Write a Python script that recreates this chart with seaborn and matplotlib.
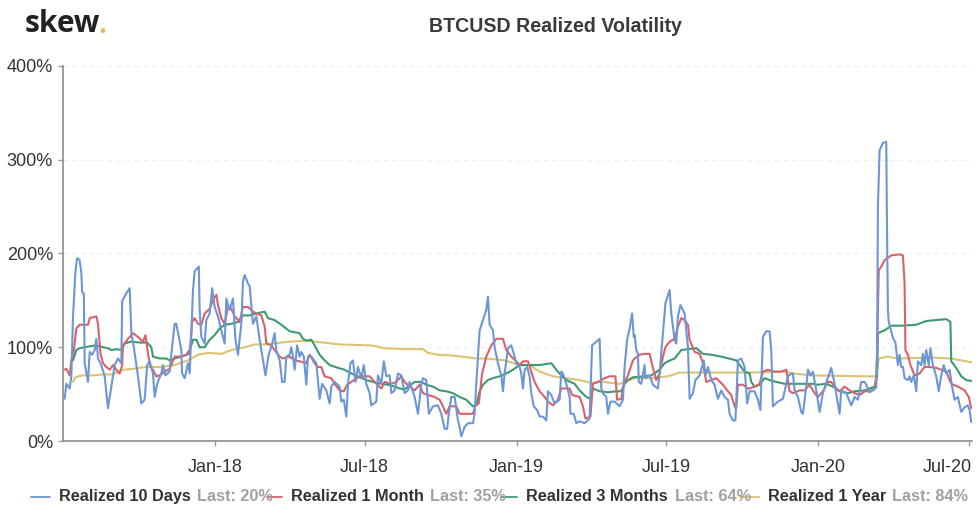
import numpy as np
import pandas as pd
import matplotlib
matplotlib.use("Agg")
import matplotlib.pyplot as plt
from matplotlib.lines import Line2D
from matplotlib.transforms import ScaledTranslation
import seaborn as sns

sns.set_theme(style="white")
plt.rcParams["font.family"] = ["Liberation Sans", "DejaVu Sans"]

START = pd.Timestamp("2017-07-01")
DAY_SCALE = 1.00833
TICK_DATES = ["2018-01-01", "2018-07-01", "2019-01-01", "2019-07-01", "2020-01-01", "2020-07-01"]
TICK_LABELS = ["Jan-18", "Jul-18", "Jan-19", "Jul-19", "Jan-20", "Jul-20"]

# (days since start, realized volatility %)
blue = [(2,45),(4,61),(8,56),(10,69),(12,133),(15,182),(17,195),(20,193),(22,179),(23,159),(25,157),(26,83),(30,63),(32,95),(35,92),(38,97),(40,109),(42,88),(46,81),(50,69),(54,35),(58,58),(62,81),(66,88),(70,83),(71,149),(75,156),(80,163),(82,115),(85,100),(90,69),(94,40),(98,44),(101,81),(104,85),(108,72),(110,47),(113,61),(118,72),(120,81),(123,70),(128,74),(130,93),(134,125),
 (136,125),(139,111),(142,97),(143,72),(146,67),(150,83),(152,72),(154,115),(156,161),(158,181),(163,186),(164,140),(166,111),(170,104),(172,129),(176,136),(179,163),(182,143),(186,133),(190,118),(194,104),(196,152),(200,140),(204,152),(207,108),(210,92),(214,125),(216,170),(218,177),(222,168),(224,165),(228,125),(232,133),(236,108),(240,86),(243,70),(247,93),(250,100),(254,115),(256,97),(260,86),(263,63),(266,63),(268,90),(272,92),
 (274,100),(276,90),(278,76),(281,102),(284,90),(286,95),(289,90),(292,60),(294,90),(298,90),(304,83),(308,45),(311,61),(316,54),(320,40),(322,58),(326,63),(332,58),(334,42),(337,44),(340,26),(342,61),(345,83),(348,86),(351,63),(354,79),(358,67),(361,81),(364,61),(368,51),(370,38),(376,42),(378,70),(382,61),(385,85),(388,69),(392,70),(394,51),(398,54),(402,72),(406,70),(410,51),
 (414,54),(416,63),(422,47),(426,29),(430,61),(432,67),(436,65),(439,29),(444,37),(450,38),(454,29),(458,13),(461,13),(463,29),(466,47),(470,47),(474,22),(476,15),(478,5),(482,15),(486,19),(492,19),(494,29),(496,61),(500,118),(504,129),(508,140),(510,154),(512,124),(516,118),(518,100),(522,83),(526,70),(528,53),(530,72),(534,99),(538,102),(541,93),(544,83),(548,79),
 (550,72),(552,56),(554,76),(557,79),(560,69),(562,51),(565,37),(569,33),(572,26),(576,26),(580,22),(582,53),(586,49),(590,40),(596,44),(598,74),(600,72),(604,61),(608,47),(609,29),(613,29),(616,19),(620,21),(626,19),(632,24),(635,102),(640,106),(644,109),(646,56),(648,51),(652,47),(654,29),(657,42),(662,42),(668,37),(672,44),(674,79),(677,108),(680,120),(683,136),(685,111),
 (686,113),(688,97),(690,93),(691,63),(694,61),(698,81),(699,67),(704,70),(708,60),(714,56),(716,72),(720,115),(723,147),(728,161),(730,136),(734,108),(736,104),(738,133),(741,145),(746,136),(750,100),(752,45),(756,51),(759,65),(764,70),(769,86),(771,70),(774,79),(778,65),(782,60),(786,45),(790,54),(794,47),(798,44),(800,29),(804,22),(807,22),(810,86),(814,88),(818,79),(821,40),(824,53),
 (830,53),(834,44),(837,33),(840,111),(844,117),(848,117),(850,97),(852,37),(858,42),(864,45),(866,53),(870,69),(874,72),(876,72),(878,54),(882,47),(886,31),(888,29),(892,58),(894,76),(897,70),(900,74),(904,54),(908,31),(912,51),(917,65),(922,78),(926,61),(932,29),(934,54),(940,51),(946,38),(950,47),(954,44),(958,63),(962,63),
 (964,60),(968,52),(972,54),(976,57),(977,90),(978,250),(980,310),(984,318),(988,319),(989,220),(990,140),(991,127),(996,110),(999,105),(1002,81),(1004,92),(1006,79),(1008,79),(1010,67),(1014,65),(1016,69),(1018,63),(1021,70),(1024,53),(1026,85),(1030,81),(1032,93),(1034,81),(1036,97),(1039,81),(1041,99),(1044,81),(1048,69),(1051,53),(1054,70),(1057,81),(1060,72),(1064,76),(1067,58),(1070,44),(1074,47),(1078,31),(1082,36),(1086,38),(1088,33),(1090,20)]

red = [(2,76),(4,77),(8,70),(10,86),(13,97),(16,120),(20,124),(26,124),(30,124),(32,131),(40,133),(42,125),(45,93),(48,83),(52,79),(56,76),(60,81),(64,76),(68,72),(71,81),(72,102),(78,109),(84,115),(90,111),(96,106),(99,113),(102,93),(105,79),(108,76),(112,69),(116,70),(122,74),(128,77),(134,90),
 (142,90),(148,92),(152,93),(155,127),(158,131),(162,125),(166,124),(170,136),(176,141),(180,150),(184,156),(186,145),(190,131),(194,125),(198,143),(202,141),(206,133),(212,127),(216,143),(222,143),(228,138),(232,136),(238,134),(242,122),(244,104),(250,102),(254,97),(260,90),(264,88),(272,90),
 (278,86),(284,85),(292,83),(296,92),(302,83),(306,79),(310,79),(314,69),(322,67),(326,61),(332,54),(337,53),(341,60),(346,63),(352,67),(360,69),(368,69),(374,63),(382,56),(386,63),(394,61),(400,63),(406,69),(410,63),
 (416,58),(422,54),(428,60),(432,51),(438,49),(446,47),(452,44),(456,37),(460,29),(464,37),(472,37),(476,29),(486,29),(492,29),(495,38),(499,40),(503,72),(508,90),(514,102),(520,109),(528,109),(532,97),(538,90),(544,85),(548,81),
 (552,85),(558,85),(562,74),(566,63),(572,53),(578,47),(582,42),(588,38),(594,44),(598,56),(608,56),(611,49),(620,47),(624,37),(627,24),(633,26),(636,61),(642,63),(650,67),(656,69),(663,69),(665,44),(670,45),(673,61),(678,70),(684,86),
 (686,88),(692,92),(698,93),(704,93),(708,78),(712,65),(716,72),(720,90),(723,100),(728,106),(734,109),(738,122),(742,131),(746,129),(750,124),(752,108),(758,95),(764,93),(768,83),(772,63),(778,65),(784,67),(792,60),(798,53),(802,49),(806,37),(808,35),(810,60),(816,60),(822,56),
 (824,56),(830,58),(836,61),(840,74),(846,76),(854,74),(862,74),(868,76),(872,53),(876,51),(884,54),(890,54),(896,60),(902,51),(906,47),(912,53),(918,63),(922,63),(926,58),(932,53),(938,58),(944,54),(950,51),(956,49),(962,53),
 (968,53),(974,56),(976,69),(977,97),(979,182),(982,186),(986,193),(994,198),(1004,199),(1008,198),(1010,168),(1011,97),(1014,92),(1017,81),(1022,70),(1028,72),(1034,79),(1040,79),(1048,78),(1054,76),(1060,74),(1066,61),(1074,58),(1082,54),(1087,47),(1090,35)]

green = [(12,86),(16,97),(20,99),(26,100),(32,101),(40,102),(48,100),(54,99),(58,97),(64,98),(70,97),(74,104),(82,106),(92,105),(101,105),(106,100),(108,90),(116,88),(124,88),(128,86),(134,88),
 (142,90),(148,92),(152,97),(156,108),(160,108),(164,100),(170,100),(176,108),(182,113),(188,120),(194,124),(202,125),(210,127),(216,134),(224,134),(232,136),(242,138),(246,131),(254,129),(262,124),(272,117),
 (278,116),(284,115),(288,109),(292,107),(298,108),(302,102),(308,92),(314,86),(320,81),(330,78),(338,76),(346,72),(354,69),(364,65),(372,63),(382,61),(390,60),(398,58),(404,56),(410,55),
 (422,63),(430,63),(436,60),(444,58),(452,54),(460,53),(468,51),(476,47),(484,44),(492,37),(496,38),(500,53),(504,60),(510,65),(516,67),(524,69),(532,72),(540,76),(548,81),
 (560,81),(572,81),(586,83),(592,76),(598,70),(604,65),(614,61),(620,54),(628,47),(633,45),(636,56),(644,53),(654,52),(664,53),(670,53),(674,61),(678,65),(684,68),
 (698,69),(706,70),(716,76),(722,83),(726,85),(734,88),(742,97),(750,98),(760,99),(768,93),(778,92),(790,90),(808,86),(812,81),(818,74),(824,72),
 (826,63),(830,58),(836,60),(842,67),(848,65),(856,63),(866,61),(876,61),(888,61),(900,61),(906,60),(916,61),(924,58),(932,53),(942,51),(950,53),(962,54),
 (974,58),(977,69),(978,115),(986,118),(994,123),(1006,123),(1024,124),(1036,128),(1048,129),(1060,130),(1065,127),(1066,85),(1072,78),(1078,69),(1084,65),(1090,64)]

yellow = [(12,63),(14,67),(18,69),(24,70),(36,70),(48,71),(60,71),(72,76),(84,77),(100,79),(116,79),(134,81),(150,86),(162,92),(174,94),(190,93),(202,97),(218,100),(230,103),(242,103),(272,106),(292,107),(312,105),(332,103),(368,102),(377,101),(384,99),(410,98),
 (432,98),(438,94),(450,92),(470,91),(496,88),(506,88),(520,87),(530,86),(548,81),(560,81),(572,74),(588,69),(604,67),(620,65),(634,62),(648,63),(668,61),(686,67),(706,67),(726,69),(740,73),(766,73),(824,73),(868,74),(876,72),(900,70),(962,69),(976,69),(979,88),(990,90),(1002,88),(1042,89),(1066,88),(1078,86),(1090,84)]

SERIES = [
    ("Realized 10 Days", blue, "#6b97d6"),
    ("Realized 1 Month", red, "#d8626b"),
    ("Realized 3 Months", green, "#3d9a70"),
    ("Realized 1 Year", yellow, "#dcc274"),
]
LAST = ["Last: 20%", "Last: 35%", "Last: 64%", "Last: 84%"]

frames = []
for name, pts, _ in SERIES:
    d, v = zip(*pts)
    frames.append(pd.DataFrame({
        "date": START + pd.to_timedelta(np.array(d) * DAY_SCALE, unit="D"),
        "value": v, "series": name}))
df = pd.concat(frames, ignore_index=True)

W, H = 980, 519
fig = plt.figure(figsize=(W / 100, H / 100), dpi=100)
ax = fig.add_axes([63 / W, 1 - 441 / H, 909 / W, 375 / H])

order = ["Realized 1 Year", "Realized 3 Months", "Realized 1 Month", "Realized 10 Days"]
palette = {s[0]: s[2] for s in SERIES}
sns.lineplot(data=df, x="date", y="value", hue="series", hue_order=order, palette=palette,
             estimator=None, sort=False, linewidth=1.5, legend=False, ax=ax)

ax.set_xlim(START, START + pd.Timedelta(days=1100))
ax.set_ylim(0, 400)
ax.set_xlabel("")
ax.set_ylabel("")
ax.set_yticks([0, 100, 200, 300, 400])
ax.set_yticklabels(["0%", "100%", "200%", "300%", "400%"])
ax.set_xticks(pd.to_datetime(TICK_DATES))
ax.set_xticklabels(TICK_LABELS)
ax.yaxis.grid(True, color="#eeeeee", linestyle=(0, (4, 4)), linewidth=0.8)
ax.xaxis.grid(False)
ax.set_axisbelow(True)
for s in ["top", "right"]:
    ax.spines[s].set_visible(False)
for s in ["left", "bottom"]:
    ax.spines[s].set_color("#8c8c8c")
    ax.spines[s].set_linewidth(1.2)
ax.tick_params(axis="y", left=True, length=3.6, width=1, color="#999999", pad=3.6,
               labelsize=13, labelcolor="#333333")
ax.tick_params(axis="x", bottom=True, length=3.6, width=1, color="#999999", pad=9.5,
               labelsize=13, labelcolor="#333333")
last_label = ax.get_xticklabels()[-1]
last_label.set_ha("right")
last_label.set_transform(last_label.get_transform() + ScaledTranslation(3 / 100, 0, fig.dpi_scale_trans))

fig.text(555.5 / W, 1 - 27 / H, "BTCUSD Realized Volatility", ha="center", va="center",
         fontsize=14.1, fontweight="bold", color="#3a3a3a")
fig.text(25 / W, 1 - 23.5 / H, "skew", ha="left", va="center", family="Open Sans",
         fontsize=21.5, fontweight="bold", color="#222222")
fig.text(98 / W, 1 - 33 / H, ".", ha="left", va="baseline", family="Open Sans",
         fontsize=20, fontweight="bold", color="#e5b95c")

LEG_Y = 1 - 496.5 / H
HANDLE_X = [(31, 50), (267, 282), (502, 517), (740, 759)]
NAME_X = [59, 291, 526, 768]
LAST_X = [197, 430, 675, 892]
for (name, _, col), (h0, h1), nx, lx, last in zip(SERIES, HANDLE_X, NAME_X, LAST_X, LAST):
    fig.add_artist(Line2D([h0 / W, h1 / W], [LEG_Y, LEG_Y], color=col, linewidth=1.3,
                          transform=fig.transFigure))
    fig.text(nx / W, LEG_Y, name, ha="left", va="center", fontsize=11.7,
             fontweight="bold", color="#333333")
    fig.text(lx / W, LEG_Y, last, ha="left", va="center", fontsize=11.7,
             fontweight="bold", color="#a0a0a0")

fig.savefig("out.png", dpi=100, facecolor="white")
